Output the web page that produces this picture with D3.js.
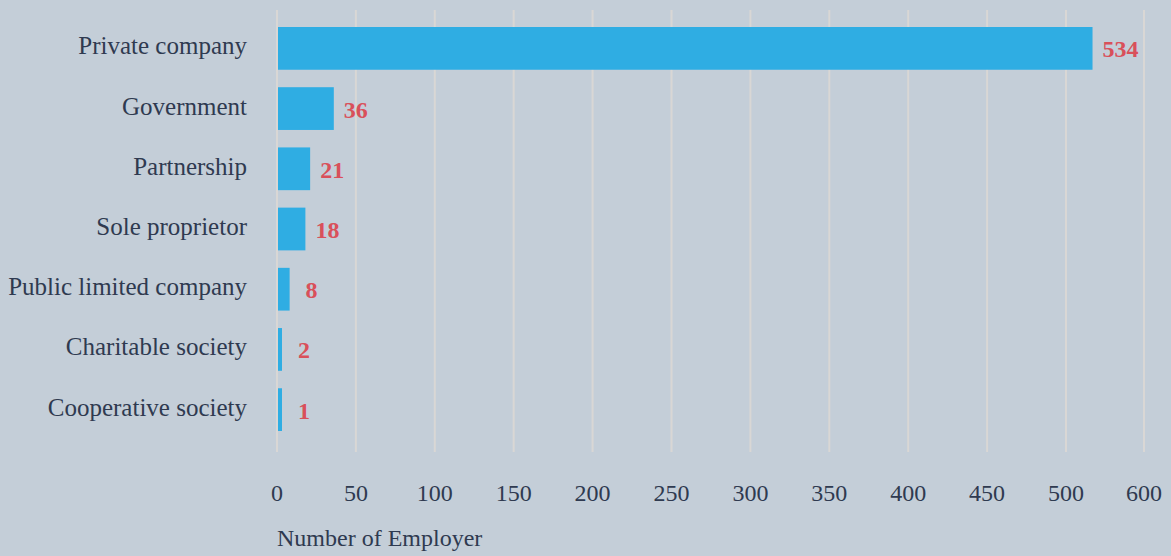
<!DOCTYPE html>
<meta charset="utf-8">
<html>
<head>
<script src="https://d3js.org/d3.v7.min.js"></script>
<style>
  body { margin: 0; background: #c4ced8; }
  svg { display: block; }
  .cat, .tick-label, .axis-title { font-family: "Liberation Serif", serif; fill: #2f3a50; }
  .val { font-family: "Liberation Serif", serif; font-weight: bold; fill: #d9505a; }
</style>
</head>
<body>
<div id="chart"></div>
<script>
// data
var categories = ["Private company", "Government", "Partnership", "Sole proprietor",
                  "Public limited company", "Charitable society", "Cooperative society"];
var counts = [534, 36, 21, 18, 8, 2, 1];
var tickValues = [0, 50, 100, 150, 200, 250, 300, 350, 400, 450, 500, 600];

var width = 1171, height = 556;

var svg = d3.select("#chart").append("svg")
    .attr("width", width)
    .attr("height", height);

svg.append("rect").attr("width", width).attr("height", height).attr("fill", "#c4ced8");

// the axis is stretched up to 500 and compressed after it
var x = d3.scaleLinear()
    .domain([0, 500, 600])
    .range([277, 1066, 1144]);

var y = d3.scaleBand()
    .domain(categories)
    .range([27, 431])
    .paddingInner(0.29)
    .paddingOuter(0);

// gridlines
svg.append("g").selectAll("line")
    .data(tickValues)
    .enter().append("line")
    .attr("x1", d => x(d)).attr("x2", d => x(d))
    .attr("y1", 10).attr("y2", 452)
    .attr("stroke", "#d9d7d5")
    .attr("stroke-width", 2);

function barEnd(d) { return Math.max(x(d), x(0) + 5); }

// bars
svg.append("g").selectAll("rect")
    .data(counts)
    .enter().append("rect")
    .attr("x", x(0) + 1)
    .attr("y", (d, i) => y(categories[i]))
    .attr("width", d => barEnd(d) - x(0) - 1)
    .attr("height", y.bandwidth())
    .attr("fill", "#2fade3");

// value labels
svg.append("g").selectAll("text")
    .data(counts)
    .enter().append("text")
    .attr("class", "val")
    .attr("x", d => barEnd(d) + (d < 10 ? 16 : 10))
    .attr("y", (d, i) => y(categories[i]) + y.bandwidth() / 2 + 9)
    .attr("font-size", "24px")
    .text(d => d);

// category labels
svg.append("g").selectAll("text")
    .data(categories)
    .enter().append("text")
    .attr("class", "cat")
    .attr("x", 247)
    .attr("y", d => y(d) + y.bandwidth() / 2 + 6)
    .attr("text-anchor", "end")
    .attr("font-size", "25px")
    .text(d => d);

// x tick labels
svg.append("g").selectAll("text")
    .data(tickValues)
    .enter().append("text")
    .attr("class", "tick-label")
    .attr("x", d => x(d))
    .attr("y", 501)
    .attr("text-anchor", "middle")
    .attr("font-size", "24px")
    .text(d => d);

svg.append("text")
    .attr("class", "axis-title")
    .attr("x", 277)
    .attr("y", 546)
    .attr("font-size", "24px")
    .text("Number of Employer");
</script>
</body>
</html>
